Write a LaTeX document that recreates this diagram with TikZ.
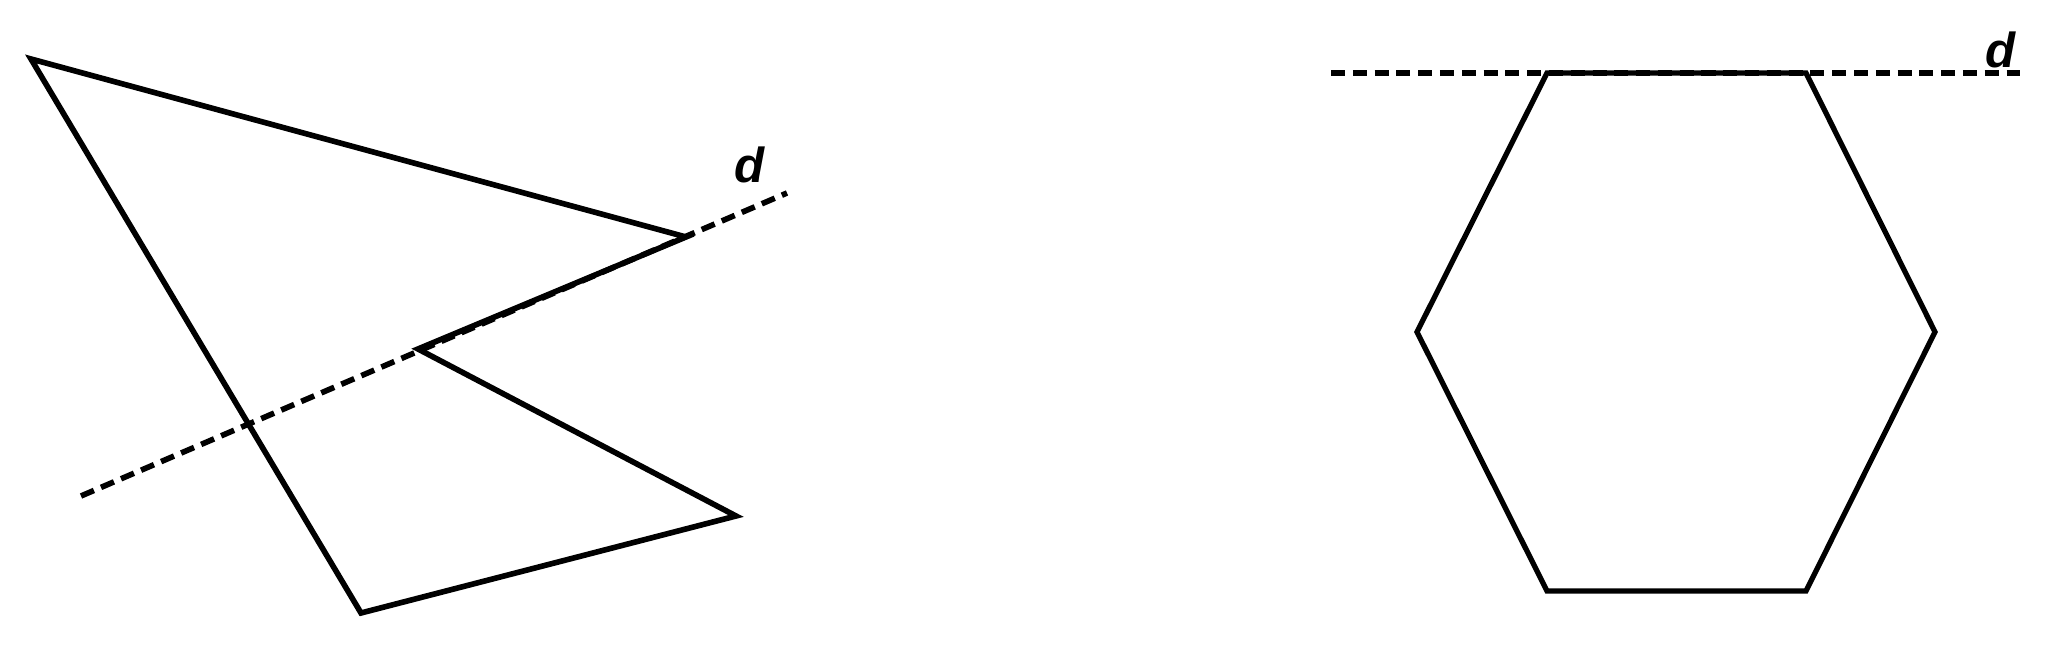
\documentclass[tikz,border=0pt]{standalone}
\usepackage{fontspec}
\setmainfont{Liberation Sans}
\usepackage{tikz}
\pgfdeclarelayer{bg}
\pgfsetlayers{bg,main}

\begin{document}
\begin{tikzpicture}[
        side/.style={line width=1.6pt, line join=miter},
        hexside/.style={line width=1.5pt, line join=miter},
        axis/.style={line width=1.6pt, dash pattern=on 4pt off 2.2pt},
        lab/.style={font=\fontsize{14}{16}\selectfont\bfseries\itshape, inner sep=0pt}]
        \useasboundingbox (0cm, 0cm) rectangle (20.500000cm, 6.500000cm);
        \coordinate (p0) at (0.310000cm, 5.910000cm);
        \coordinate (p1) at (6.860000cm, 4.130000cm);
        \coordinate (p2) at (4.180000cm, 3.010000cm);
        \coordinate (p3) at (7.360000cm, 1.340000cm);
        \coordinate (p4) at (3.610000cm, 0.370000cm);
        \coordinate (s0) at (0.810000cm, 1.540000cm);
        \coordinate (s1) at (7.870000cm, 4.570000cm);
        \node (d0) [lab] at (7.500000cm, 4.850000cm) {d};
        \coordinate (h0) at (14.170000cm, 3.180000cm);
        \coordinate (h1) at (15.470000cm, 5.770000cm);
        \coordinate (h2) at (18.060000cm, 5.770000cm);
        \coordinate (h3) at (19.350000cm, 3.180000cm);
        \coordinate (h4) at (18.060000cm, 0.590000cm);
        \coordinate (h5) at (15.470000cm, 0.590000cm);
        \coordinate (t0) at (13.310000cm, 5.770000cm);
        \coordinate (t1) at (20.200000cm, 5.770000cm);
        \node (d1) [lab] at (20.000000cm, 6.000000cm) {d};
        \begin{pgfonlayer}{bg}
                \draw (s0) edge [axis] (s1);
                \draw (t0) edge [axis] (t1);
        \end{pgfonlayer}
        \draw [side] (p0) -- (p1) -- (p2) -- (p3) -- (p4) -- cycle;
        \draw [hexside] (h0) -- (h1) -- (h2) -- (h3) -- (h4) -- (h5) -- cycle;
\end{tikzpicture}
\end{document}
